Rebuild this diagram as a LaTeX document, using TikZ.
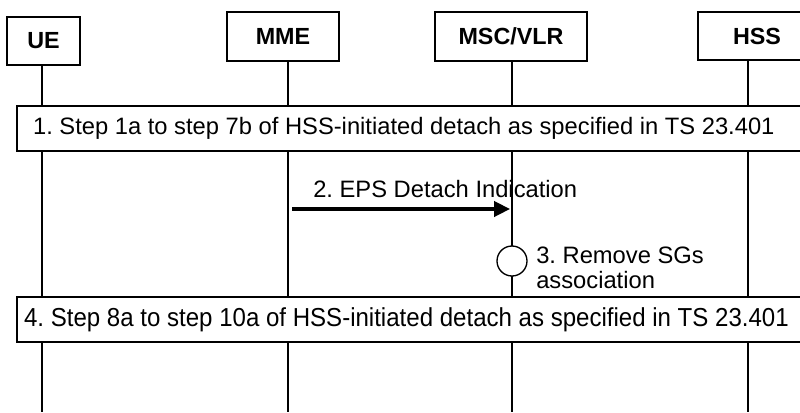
\documentclass[tikz,border=0pt]{standalone}
\usepackage{fontspec}
\setmainfont{Liberation Sans}
\usetikzlibrary{arrows.meta}

\tikzset{
  life/.style={line width=1pt},
  entity/.style={draw, line width=1pt, fill=white, inner sep=0pt,
    font=\bfseries\fontsize{17.5}{21}\selectfont},
  stepbox/.style={draw, line width=1.2pt, fill=white, anchor=north west, inner sep=0pt,
    minimum width=589.5pt, minimum height=33.75pt, font=\fontsize{17.8}{21}\selectfont},
  msg/.style={line width=2.4pt, -{Triangle[length=12pt,width=11.5pt]}},
  proc/.style={draw, circle, line width=1pt, fill=white, minimum size=22.5pt, inner sep=0pt},
  lbl/.style={inner sep=0pt, font=\fontsize{17.8}{21}\selectfont}
}

\begin{document}
\frenchspacing
\begin{tikzpicture}[x=0.75pt, y=-0.75pt]
  \useasboundingbox (0,0) rectangle (800,412);
  % lifelines
  \foreach \x in {42, 288, 512, 748}
    \draw[life] (\x,40) -- (\x,412);
  % entities
  \node[entity, minimum width=54.75pt, minimum height=36pt] (ue) at (43.5,41) {UE};
  \node[entity, minimum width=84pt, minimum height=36.75pt] (mme) at (283,36.5) {MME};
  \node[entity, minimum width=114pt, minimum height=36.75pt] (msc) at (511,36.5) {MSC/VLR};
  \node[entity, minimum width=88.5pt, minimum height=36pt] (hss) at (757,36) {HSS};
  % 1
  \node[stepbox] (step1) at (16,105)
    {\hspace*{-9pt}1. Step 1a to step 7b of HSS-initiated detach as specified in TS 23.401};
  % 2
  \coordinate (sig2-from) at (292,209);
  \coordinate (sig2-to) at (510,209);
  \draw[msg] (sig2-from) -- (sig2-to);
  \node[lbl, anchor=base west] (sig2-txt) at (313,197) {2. EPS Detach Indication};
  % 3
  \node[proc] (rm) at (512,261) {};
  \node[lbl, anchor=west, align=left, font=\fontsize{17.8}{19}\selectfont] (rm-txt) at (536,268)
    {3. Remove SGs\\association};
  % 4
  \node[stepbox, font=\fontsize{19.5}{21}\selectfont] (step4) at (16,296)
    {\hspace*{-5pt}\scalebox{0.925}[1]{4. Step 8a to step 10a of HSS-initiated detach as specified in TS 23.401}};
\end{tikzpicture}
\end{document}
